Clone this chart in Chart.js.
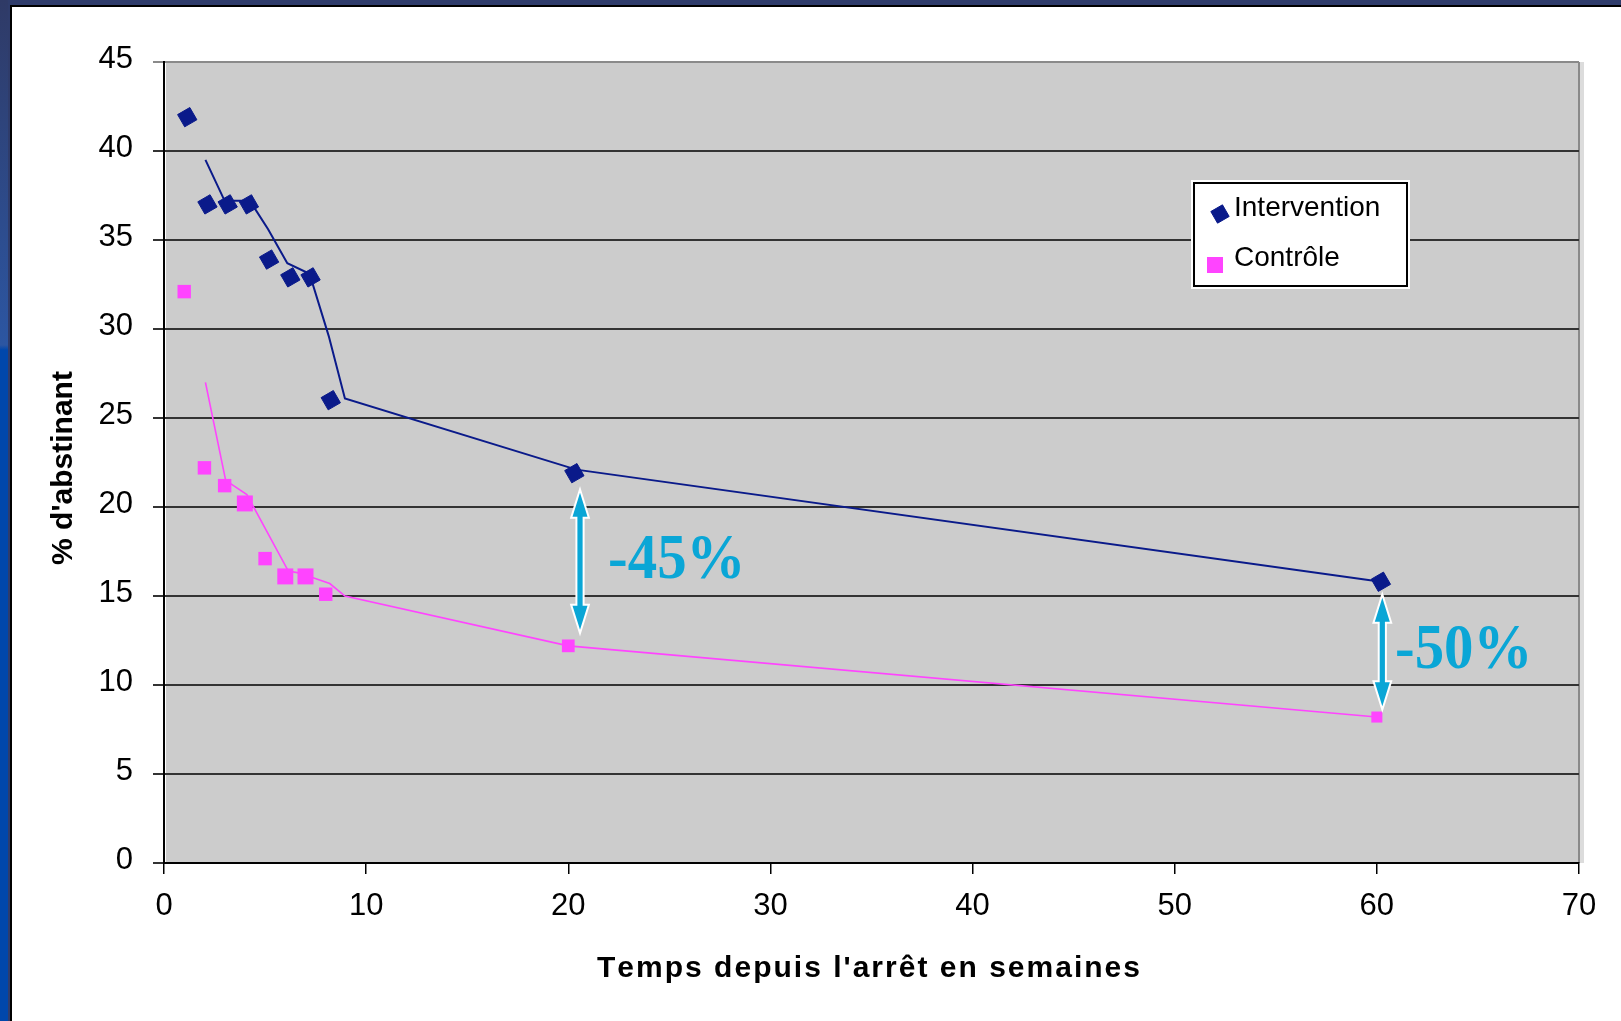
<!DOCTYPE html>
<html>
<head>
<meta charset="utf-8">
<script src="https://cdn.jsdelivr.net/npm/chart.js@4"></script>
<style>
    body {
        margin: 0;
        width: 1621px;
        height: 1021px;
        overflow: hidden;
        position: relative;
        background: #2f3c6b;
    }
    #strip {
        position: absolute;
        left: 0;
        top: 0;
        width: 8px;
        height: 1021px;
        background: linear-gradient(to bottom, #2f3a66 0px, #2c56a2 345px, #0047ab 350px, #0047ab 1021px);
    }
    #panel {
        position: absolute;
        left: 10px;
        top: 5px;
        right: 0;
        bottom: 0;
        background: #ffffff;
        border-left: 2px solid #000000;
        border-top: 2px solid #000000;
    }
    #chart {
        position: absolute;
        left: 0;
        top: 0;
    }
</style>
</head>
<body>
<div id="strip"></div>
<div id="panel"></div>
<canvas id="chart" width="1621" height="1021"></canvas>
<script>
// weeks since quitting / % abstinent
const weeksIntervention = [1.15, 2.15, 3.15, 4.2, 5.2, 6.25, 7.25, 8.25, 20.3, 60.2];
const abstIntervention = [41.9, 37, 37, 37, 33.9, 32.9, 32.9, 26, 21.9, 15.8];
const weeksControl = [1, 2, 3, 4, 5, 6, 7, 8, 20, 60];
const abstControl = [32.1, 22.2, 21.2, 20.2, 17.1, 16.1, 16.1, 15.1, 12.2, 8.2];

// trend lines (vertices as drawn)
const trendWeeksIntervention = [2.05, 3, 4.25, 5.15, 6.1, 7.2, 8.15, 8.95, 20.4, 60.2];
const trendIntervention = [39.5, 37.2, 37.2, 35.6, 33.7, 33.1, 29.6, 26.1, 22.1, 15.8];
const trendWeeksControl = [2.05, 3.05, 4.1, 6.15, 6.65, 8.2, 8.95, 20, 60];
const trendControl = [27.0, 21.5, 20.7, 16.4, 16.3, 15.7, 15.0, 12.2, 8.2];

const xTicks = [0, 10, 20, 30, 40, 50, 60, 70];
const yTicks = [0, 5, 10, 15, 20, 25, 30, 35, 40, 45];

const seriesLabels = ["Intervention", "Contrôle"];
const xTitle = "Temps depuis l'arrêt en semaines";
const yTitle = "% d'abstinant";

const blue = "#0a1a8a";
const pink = "#ff44ff";
const cyan = "#0aa6d6";
const controlMarkerRadius = [9.5, 9.5, 9.5, 11.3, 9.5, 11.3, 11.3, 9.5, 9, 7.8];

const diffNotes = [
    { x: 20.58, top: 20.8, bottom: 13.1, text: "-45%", tx: 21.97, ty: 16.0 },
    { x: 60.27, top: 14.9, bottom: 8.8, text: "-50%", tx: 60.9, ty: 10.94 }
];

function toPoints(xs, ys) {
    const pts = [];
    for (let i = 0; i < xs.length; ++i) {
        pts.push({ x: xs[i], y: ys[i] });
    }
    return pts;
}

function drawArrow(ctx, cx, y1, y2) {
    const hw = 7.5;
    const sw = 2.6;
    const hl = 24;
    ctx.beginPath();
    ctx.moveTo(cx, y1);
    ctx.lineTo(cx + hw, y1 + hl);
    ctx.lineTo(cx + sw, y1 + hl);
    ctx.lineTo(cx + sw, y2 - hl);
    ctx.lineTo(cx + hw, y2 - hl);
    ctx.lineTo(cx, y2);
    ctx.lineTo(cx - hw, y2 - hl);
    ctx.lineTo(cx - sw, y2 - hl);
    ctx.lineTo(cx - sw, y1 + hl);
    ctx.lineTo(cx - hw, y1 + hl);
    ctx.closePath();
    ctx.lineJoin = "miter";
    ctx.strokeStyle = "#ffffff";
    ctx.lineWidth = 4;
    ctx.stroke();
    ctx.fillStyle = cyan;
    ctx.fill();
}

function drawSpaced(ctx, text, left, right, y) {
    let sum = 0;
    for (const ch of text) sum += ctx.measureText(ch).width;
    const gap = (right - left - sum) / (text.length - 1);
    let x = left;
    for (const ch of text) {
        ctx.fillText(ch, x, y);
        x += ctx.measureText(ch).width + gap;
    }
}

const decorPlugin = {
    id: "decor",
    beforeDraw(chart) {
        const ctx = chart.ctx;
        const a = chart.chartArea;
        ctx.save();
        ctx.fillStyle = "#dcdcdc";
        ctx.fillRect(a.right, a.top, 5, a.bottom - a.top);
        ctx.fillStyle = "#cccccc";
        ctx.fillRect(a.left + 2, a.top, a.right - a.left - 2, a.bottom - a.top);
        ctx.fillStyle = "#8a8a8a";
        ctx.fillRect(a.right - 1, a.top, 2, a.bottom - a.top);
        ctx.restore();
    },
    afterDatasetsDraw(chart) {
        const ctx = chart.ctx;
        const xs = chart.scales.x;
        const ys = chart.scales.y;
        ctx.save();

        // difference arrows and labels
        diffNotes.forEach(function(n) {
            drawArrow(ctx, xs.getPixelForValue(n.x), ys.getPixelForValue(n.top), ys.getPixelForValue(n.bottom));
            ctx.save();
            ctx.translate(xs.getPixelForValue(n.tx), ys.getPixelForValue(n.ty));
            ctx.scale(0.92, 1);
            ctx.font = "bold 64px 'Liberation Serif', 'Times New Roman', serif";
            ctx.fillStyle = cyan;
            ctx.textAlign = "left";
            ctx.textBaseline = "alphabetic";
            ctx.fillText(n.text, 0, 0);
            ctx.restore();
        });

        // legend
        ctx.fillStyle = "#ffffff";
        ctx.fillRect(1191, 180, 219, 109);
        ctx.strokeStyle = "#000000";
        ctx.lineWidth = 2;
        ctx.strokeRect(1194, 183, 213, 103);
        ctx.font = "28px 'Liberation Sans', Arial, sans-serif";
        ctx.fillStyle = "#000000";
        ctx.textAlign = "left";
        ctx.textBaseline = "middle";
        ctx.fillText(seriesLabels[0], 1234, 208);
        ctx.fillText(seriesLabels[1], 1234, 258);

        ctx.fillStyle = blue;
        ctx.strokeStyle = blue;
        ctx.lineWidth = 1;
        Chart.helpers.drawPoint(ctx, { pointStyle: "rectRot", radius: 9.5, rotation: 15, borderWidth: 1 }, 1220, 214);
        ctx.fillStyle = pink;
        ctx.strokeStyle = pink;
        Chart.helpers.drawPoint(ctx, { pointStyle: "rect", radius: 11.3, rotation: 0, borderWidth: 0 }, 1215, 265);

        // axis titles
        ctx.fillStyle = "#000000";
        ctx.font = "bold 30px 'Liberation Sans', Arial, sans-serif";
        ctx.textAlign = "left";
        ctx.textBaseline = "alphabetic";
        drawSpaced(ctx, xTitle, 597, 1140, 977);

        ctx.translate(72, 468);
        ctx.rotate(-Math.PI / 2);
        ctx.textAlign = "center";
        ctx.fillText(yTitle, 0, 0);
        ctx.restore();
    }
};

window.onload = function() {
    const canvas = document.getElementById("chart").getContext("2d");
    const tickFont = { family: "'Liberation Sans', Arial, sans-serif", size: 31 };

    new Chart(canvas, {
        type: "scatter",
        data: {
            datasets: [{
                label: seriesLabels[0],
                data: toPoints(weeksIntervention, abstIntervention),
                pointStyle: "rectRot",
                pointRadius: 10,
                pointRotation: 15,
                backgroundColor: blue,
                borderColor: blue,
                borderWidth: 1,
                showLine: false
            }, {
                label: seriesLabels[1],
                data: toPoints(weeksControl, abstControl),
                pointStyle: "rect",
                pointRadius: controlMarkerRadius,
                backgroundColor: pink,
                borderColor: pink,
                borderWidth: 0,
                showLine: false
            }, {
                label: "trend " + seriesLabels[0],
                data: toPoints(trendWeeksIntervention, trendIntervention),
                showLine: true,
                pointRadius: 0,
                borderColor: blue,
                borderWidth: 2,
                tension: 0
            }, {
                label: "trend " + seriesLabels[1],
                data: toPoints(trendWeeksControl, trendControl),
                showLine: true,
                pointRadius: 0,
                borderColor: pink,
                borderWidth: 1.6,
                tension: 0
            }]
        },
        options: {
            responsive: false,
            animation: false,
            devicePixelRatio: 1,
            layout: { padding: { left: 0, top: 62, right: 42, bottom: 0 } },
            plugins: {
                legend: { display: false },
                tooltip: { enabled: false }
            },
            scales: {
                x: {
                    type: "linear",
                    min: 0,
                    max: 70,
                    afterFit: function(scale) { scale.height = 158; },
                    afterBuildTicks: function(scale) {
                        scale.ticks = xTicks.map(function(v) { return { value: v }; });
                    },
                    border: { display: true, color: "#000000", width: 2 },
                    grid: { drawOnChartArea: false, drawTicks: true, tickLength: 11, color: "#000000", lineWidth: 1.5 },
                    ticks: { font: tickFont, color: "#000000", padding: 14, maxRotation: 0 }
                },
                y: {
                    type: "linear",
                    min: 0,
                    max: 45,
                    afterFit: function(scale) { scale.width = 164; },
                    afterBuildTicks: function(scale) {
                        scale.ticks = yTicks.map(function(v) { return { value: v }; });
                    },
                    border: { display: true, color: "#000000", width: 2 },
                    grid: {
                        drawOnChartArea: true,
                        drawTicks: true,
                        tickLength: 11,
                        lineWidth: 2,
                        color: function(c) { return c.tick && c.tick.value === 45 ? "#8a8a8a" : "#333333"; }
                    },
                    ticks: { font: tickFont, color: "#000000", padding: 20, labelOffset: -3 }
                }
            }
        },
        plugins: [decorPlugin]
    });
};
</script>
</body>
</html>
